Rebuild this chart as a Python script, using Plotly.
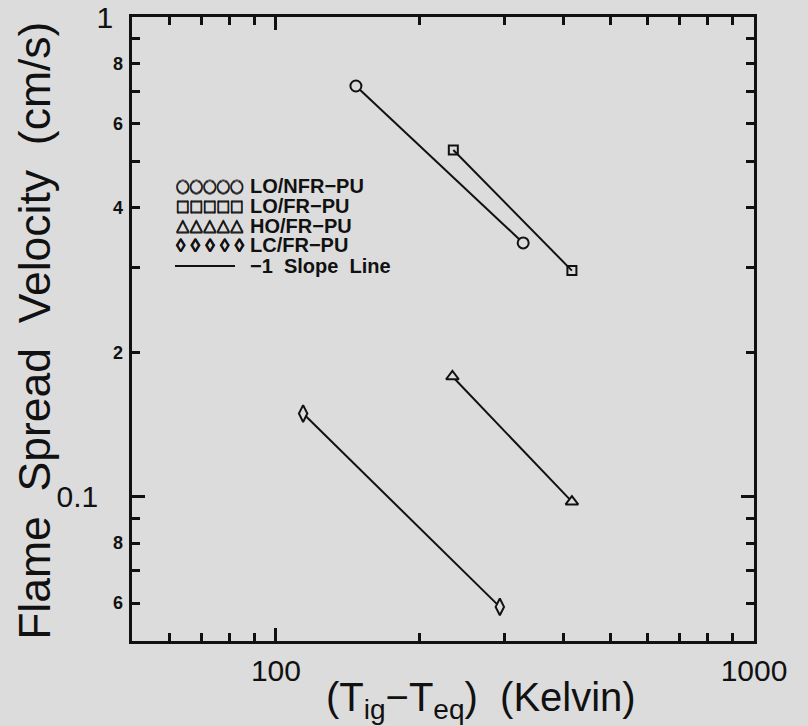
import math
import plotly.graph_objects as go

# Temperature difference (K) and flame spread velocity (cm/s) for each material
x_lo_nfr = [147, 329]
v_lo_nfr = [0.718, 0.338]
x_lo_fr = [235, 416]
v_lo_fr = [0.528, 0.296]
x_ho_fr = [234, 416]
v_ho_fr = [0.178, 0.0976]
x_lc_fr = [114, 294]
v_lc_fr = [0.149, 0.0589]

# Axis ticks
x_major = [100, 1000]
x_major_text = ["100", "1000"]
x_minor = [50, 60, 70, 80, 90, 200, 300, 400, 500, 600, 700, 800, 900]
y_major = [1, 0.1]
y_major_text = ["1", "0.1\u2002"]
y_small = [0.8, 0.6, 0.4, 0.2, 0.08, 0.06]
y_small_text = ["8", "6", "4", "2", "8", "6"]
y_minor = [0.9, 0.8, 0.7, 0.6, 0.5, 0.4, 0.3, 0.2,
           0.09, 0.08, 0.07, 0.06, 0.05]

# Legend rows: symbol string, its font, and the label
legend_symbols = ["○○○○○", "□□□□□", "△△△△△", "◊ ◊ ◊ ◊ ◊"]
legend_symbol_fonts = [
    ("Noto Sans CJK SC", 13.5),
    ("Noto Sans CJK SC", 13.5),
    ("Noto Sans CJK SC", 13.5),
    ("Liberation Sans", 19),
]
legend_names = ["LO/NFR−PU", "LO/FR−PU", "HO/FR−PU", "LC/FR−PU", "−1  Slope  Line"]

BG = "#dcdcdc"
INK = "#111111"
FONT = "Liberation Sans, Arial, sans-serif"
THICKEN = ("0.6px 0 0 #111111, -0.6px 0 0 #111111, "
           "0 0.6px 0 #111111, 0 -0.6px 0 #111111")
THICKEN_THIN = "0.3px 0 0 #111111, -0.3px 0 0 #111111"

fig = go.Figure()

series = [
    (x_lo_nfr, v_lo_nfr, dict(symbol="circle", size=11, color=BG, line=dict(color=INK, width=2)), "y"),
    (x_lo_fr, v_lo_fr, dict(symbol="square-open", size=9, color=INK, line=dict(color=INK, width=2)), "y"),
    (x_ho_fr, v_ho_fr, dict(symbol="triangle-up", size=11, color=BG, line=dict(color=INK, width=2)), "y"),
    (x_lc_fr, v_lc_fr, dict(symbol="diamond-tall", size=12, color=BG, line=dict(color=INK, width=2)), "y2"),
]
for xs, vs, mk, ya in series:
    fig.add_trace(go.Scatter(
        x=xs, y=vs, mode="lines+markers", yaxis=ya,
        line=dict(color=INK, width=2), marker=mk,
        showlegend=False, hoverinfo="skip",
    ))

yrange = [math.log10(0.05), 0]
xrange = [math.log10(50), 3]

fig.update_layout(
    width=808, height=726,
    margin=dict(l=132, r=54, t=17, b=85),
    paper_bgcolor=BG, plot_bgcolor=BG,
    font=dict(family=FONT, color=INK),
    showlegend=False,
    xaxis=dict(
        type="log", range=xrange, automargin=False,
        tickvals=x_major, ticktext=x_major_text,
        tickfont=dict(size=30), ticks="inside", ticklen=13, tickwidth=2.5,
        tickcolor=INK, showline=True, linewidth=2.5, linecolor=INK,
        mirror="ticks", showgrid=False, zeroline=False,
        ticklabelstandoff=1,
        minor=dict(tickvals=x_minor, ticks="inside", ticklen=8, tickwidth=2.5,
                   tickcolor=INK, showgrid=False),
    ),
    yaxis=dict(
        type="log", range=yrange, automargin=False,
        tickvals=y_major, ticktext=y_major_text,
        tickfont=dict(size=30), ticks="inside", ticklen=13, tickwidth=2.5,
        tickcolor=INK, showline=True, linewidth=2.5, linecolor=INK,
        mirror="ticks", showgrid=False, zeroline=False,
        ticklabelstandoff=10,
        minor=dict(tickvals=y_minor, ticks="inside", ticklen=8, tickwidth=2.5,
                   tickcolor=INK, showgrid=False),
    ),
    yaxis2=dict(
        type="log", range=yrange, overlaying="y", side="left",
        anchor="free", position=0, automargin=False,
        tickvals=y_small, ticktext=y_small_text,
        tickfont=dict(size=18, weight="bold"), ticks="",
        showline=False, showgrid=False, zeroline=False, ticklabelstandoff=9,
    ),
)

# y-axis title
fig.add_annotation(
    text="Flame  Spread  Velocity  (cm/s)",
    xref="paper", yref="paper", x=-0.156, y=0.497, textangle=-90,
    xanchor="center", yanchor="middle", showarrow=False,
    font=dict(size=44.5, family=FONT, color=INK),
)

# x-axis title
fig.add_annotation(
    text="(T<sub>ig</sub>−T<sub>eq</sub>)  (Kelvin)",
    xref="paper", yref="paper", x=0.561, y=-0.094,
    xanchor="center", yanchor="middle", showarrow=False,
    font=dict(size=40, family=FONT, color=INK),
)

# Legend block drawn inside the axes
row_px = [186, 206, 226, 245, 266]
plot_top, plot_h, plot_left, plot_w = 17, 624, 132, 622
for i, name in enumerate(legend_names):
    yp = (plot_top + plot_h - row_px[i]) / plot_h
    if i < len(legend_symbols):
        fam, sz = legend_symbol_fonts[i]
        fig.add_annotation(
            text=legend_symbols[i], xref="paper", yref="paper",
            x=(174 - plot_left) / plot_w, y=yp, xanchor="left", yanchor="middle",
            showarrow=False,
            font=dict(size=sz, family=fam, weight="bold", color=INK,
                      shadow=THICKEN if i < 3 else THICKEN_THIN),
        )
    fig.add_annotation(
        text=name, xref="paper", yref="paper",
        x=(248 - plot_left) / plot_w, y=yp, xanchor="left", yanchor="middle",
        showarrow=False, font=dict(size=20, family=FONT, weight="bold", color=INK),
    )

yl = (plot_top + plot_h - row_px[4]) / plot_h
fig.add_shape(type="line", xref="paper", yref="paper",
              x0=(175 - plot_left) / plot_w, x1=(235 - plot_left) / plot_w,
              y0=yl, y1=yl, line=dict(color=INK, width=2))

fig.write_html("out.html")
